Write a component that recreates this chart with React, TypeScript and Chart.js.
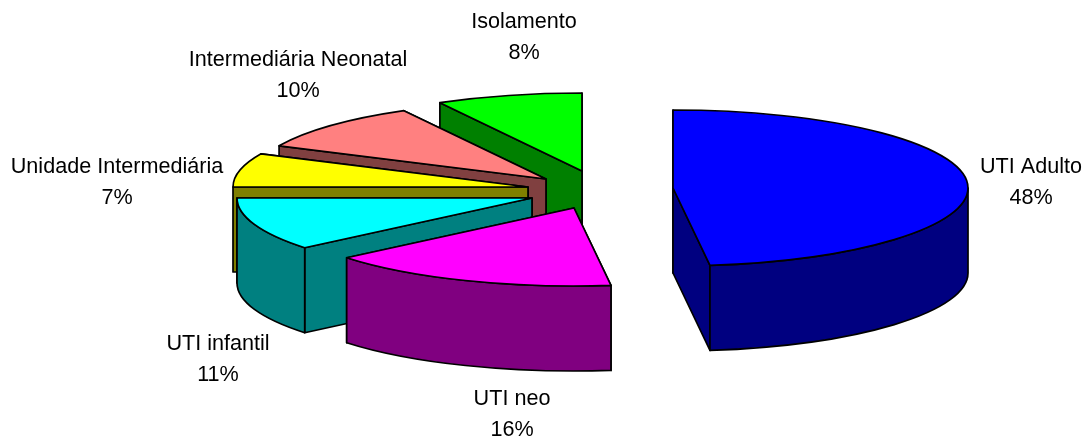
import React, { useEffect, useRef } from "react";
import { Chart, registerables } from "chart.js";

Chart.register(...registerables);

const categories = ["UTI Adulto", "UTI neo", "UTI infantil", "Unidade Intermediária", "Intermediária Neonatal", "Isolamento"];
const shares = [48, 16, 11, 7, 10, 8];

const topColors = ["#0000FF", "#FF00FF", "#00FFFF", "#FFFF00", "#FF8080", "#00FF00"];
const sideColors = ["#000080", "#800080", "#008080", "#808000", "#804040", "#008000"];

// How far each slice is pulled out of the pie, in canvas pixels.
const explodeX = [129, 30, -12, -16, 2, 38];
const explodeY = [-31, -11, -21, -32, -40, -48];

// Back-to-front painting sequence of the slices.
const paintOrder = [5, 4, 3, 2, 1, 0];

const labelX = [1031, 512, 218, 117, 298, 524];
const labelY = [167, 399, 344, 167, 60, 22];

const RADIUS = 295;
const TILT = 78 / 295;
const DEPTH = 85;
const STROKE = 1.7;
const LABEL_FONT = '21.6px "Liberation Sans", Arial, sans-serif';
const LINE_GAP = 31;

function outerPoint(cx: number, cy: number, angle: number) {
  return { x: cx + Math.cos(angle) * RADIUS, y: cy + Math.sin(angle) * RADIUS * TILT };
}

function paintWall(ctx: CanvasRenderingContext2D, cx: number, cy: number, angle: number) {
  const p = outerPoint(cx, cy, angle);
  ctx.beginPath();
  ctx.moveTo(cx, cy);
  ctx.lineTo(p.x, p.y);
  ctx.lineTo(p.x, p.y + DEPTH);
  ctx.lineTo(cx, cy + DEPTH);
  ctx.closePath();
  ctx.fill();
  ctx.stroke();
}

// A flat pie becomes a tilted, extruded one: walls first, then the library's own arc on top.
const extrudedPie = {
  id: "extrudedPie",
  beforeDatasetsDraw(chart: Chart) {
    const { ctx } = chart;
    const arcs = chart.getDatasetMeta(0).data as any[];
    paintOrder.forEach((i) => {
      const arc = arcs[i];
      const cx = arc.x + explodeX[i];
      const cy = arc.y + explodeY[i];
      const { startAngle, endAngle } = arc;

      ctx.save();
      ctx.lineWidth = STROKE;
      ctx.lineJoin = "round";
      ctx.strokeStyle = "#000000";
      ctx.fillStyle = sideColors[i];

      const walls = [startAngle, endAngle].sort(
        (a, b) => Math.sin(a) - Math.sin(b)
      );
      walls.forEach((a) => paintWall(ctx, cx, cy, a));

      // Only the part of the rim facing the viewer is visible.
      const rimFrom = Math.max(startAngle, 0);
      const rimTo = Math.min(endAngle, Math.PI);
      if (rimTo > rimFrom) {
        ctx.beginPath();
        ctx.ellipse(cx, cy, RADIUS, RADIUS * TILT, 0, rimFrom, rimTo);
        ctx.ellipse(cx, cy + DEPTH, RADIUS, RADIUS * TILT, 0, rimTo, rimFrom, true);
        ctx.closePath();
        ctx.fill();
        ctx.stroke();
      }
      ctx.restore();

      ctx.save();
      ctx.translate(cx, cy);
      ctx.scale(1, TILT);
      ctx.translate(-arc.x, -arc.y);
      arc.draw(ctx);
      ctx.restore();

      ctx.save();
      ctx.lineWidth = STROKE;
      ctx.lineJoin = "round";
      ctx.strokeStyle = "#000000";
      ctx.beginPath();
      ctx.moveTo(cx, cy);
      ctx.ellipse(cx, cy, RADIUS, RADIUS * TILT, 0, startAngle, endAngle);
      ctx.closePath();
      ctx.stroke();
      ctx.restore();
    });
    return false;
  },
  afterDraw(chart: Chart) {
    const { ctx } = chart;
    const total = shares.reduce((sum, v) => sum + v, 0);
    ctx.save();
    ctx.font = LABEL_FONT;
    ctx.fillStyle = "#000000";
    ctx.textAlign = "center";
    ctx.textBaseline = "middle";
    categories.forEach((name, i) => {
      ctx.fillText(name, labelX[i], labelY[i]);
      ctx.fillText(`${Math.round((shares[i] / total) * 100)}%`, labelX[i], labelY[i] + LINE_GAP);
    });
    ctx.restore();
  },
};

export default function App() {
  const canvasRef = useRef<HTMLCanvasElement>(null);

  useEffect(() => {
    document.body.style.margin = "0";
    document.body.style.background = "#ffffff";
    const chart = new Chart(canvasRef.current as HTMLCanvasElement, {
      type: "pie",
      data: {
        labels: categories,
        datasets: [
          {
            data: shares,
            backgroundColor: topColors,
            borderWidth: 0,
            radius: RADIUS,
          } as any,
        ],
      },
      options: {
        responsive: false,
        animation: false,
        layout: { padding: 0 },
        plugins: {
          legend: { display: false },
          tooltip: { enabled: false },
        },
      },
      plugins: [extrudedPie],
    });
    return () => chart.destroy();
  }, []);

  return <canvas ref={canvasRef} width={1088} height={438} style={{ display: "block" }} />;
}
